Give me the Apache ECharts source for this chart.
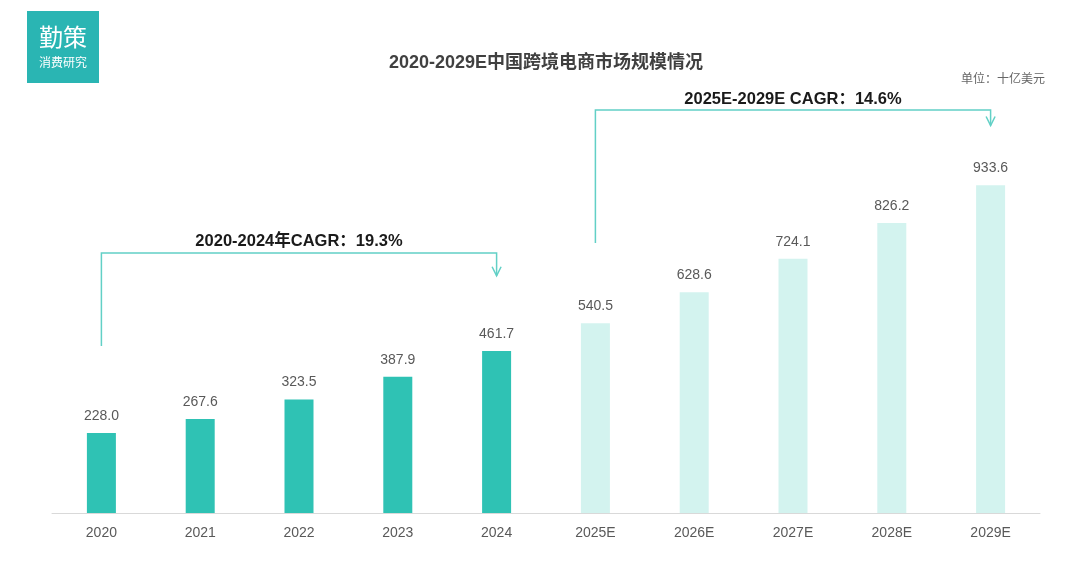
<!DOCTYPE html>
<html><head><meta charset="utf-8">
<script src="https://cdn.jsdelivr.net/npm/echarts@6/dist/echarts.min.js"></script>
<style>html,body{margin:0;padding:0;background:#fff}#c{width:1080px;height:568px}</style>
</head><body><div id="c"></div>
<script>
const categories = ['2020','2021','2022','2023','2024','2025E','2026E','2027E','2028E','2029E'];
const values = [228.0, 267.6, 323.5, 387.9, 461.7, 540.5, 628.6, 724.1, 826.2, 933.6];
const actualCount = 5;
const cagr1 = '2020-2024年CAGR：19.3%';
const cagr2 = '2025E-2029E CAGR：14.6%';

const FONT = '"Liberation Sans", "Noto Sans CJK SC", sans-serif';
const dark = '#2fc2b4', light = '#d3f3ef', lineC = '#62d0c6';

const chart = echarts.init(document.getElementById('c'), null, {renderer:'canvas'});
chart.setOption({
  animation:false,
  grid:{left:52, right:40, top:162, bottom:55},
  xAxis:{type:'category', data:categories,
    axisLine:{lineStyle:{color:'#d9d9d9'}}, axisTick:{show:false},
    axisLabel:{color:'#595959', fontSize:14, margin:13, fontFamily:FONT}},
  yAxis:{type:'value', min:0, max:1000, show:false, splitLine:{show:false}},
  series:[{type:'bar', barWidth:29,
    data: values.map((v,i)=>({value:v, itemStyle:{color: i<actualCount?dark:light}})),
    label:{show:true, position:'top', distance:10, color:'#595959', fontSize:14, fontFamily:FONT,
      formatter:p=>p.value.toFixed(1)}}]
});

function px(i, v){ return chart.convertToPixel({xAxisIndex:0, yAxisIndex:0}, [categories[i], v]); }
function bracket(i0, i1, vBottom, vTop, vArrow, text){
  const a = px(i0, vBottom), b = px(i0, vTop), c = px(i1, vTop), d = px(i1, vArrow);
  return [
    {type:'polyline', shape:{points:[a,b,c,d]}, style:{stroke:lineC, lineWidth:1.5, fill:null}},
    {type:'polyline', shape:{points:[[d[0]-4.5,d[1]-9],[d[0],d[1]],[d[0]+4.5,d[1]-9]]}, style:{stroke:lineC, lineWidth:1.5, fill:null}},
    {type:'text', x:(a[0]+c[0])/2, y:b[1]-11, style:{text:text, fontSize:16.5, fontWeight:'bold', fill:'#1a1a1a', fontFamily:FONT, align:'center', verticalAlign:'middle'}}
  ];
}
const g = [].concat(
  bracket(0, 4, 476, 741, 676, cagr1),
  bracket(5, 9, 769, 1148, 1104, cagr2),
  [
    {type:'text', x:546, y:63, style:{text:'2020-2029E中国跨境电商市场规模情况', fontSize:18, fontWeight:'bold', fill:'#404040', fontFamily:FONT, align:'center', verticalAlign:'middle'}},
    {type:'rect', shape:{x:27, y:11, width:72, height:72}, style:{fill:'#2ab5b3'}},
    {type:'text', x:63, y:37, style:{text:'勤策', fontSize:24, fill:'#fff', fontFamily:'"Noto Sans CJK SC", sans-serif', align:'center', verticalAlign:'middle'}},
    {type:'text', x:63, y:62, style:{text:'消费研究', fontSize:12, fill:'#fff', fontFamily:'"Noto Sans CJK SC", sans-serif', align:'center', verticalAlign:'middle'}},
    {type:'text', x:1045, y:78, style:{text:'单位：十亿美元', fontSize:12, fill:'#666', fontFamily:'"Noto Sans CJK SC", sans-serif', align:'right', verticalAlign:'middle'}}
  ]
);
chart.setOption({graphic:g});
</script></body></html>
